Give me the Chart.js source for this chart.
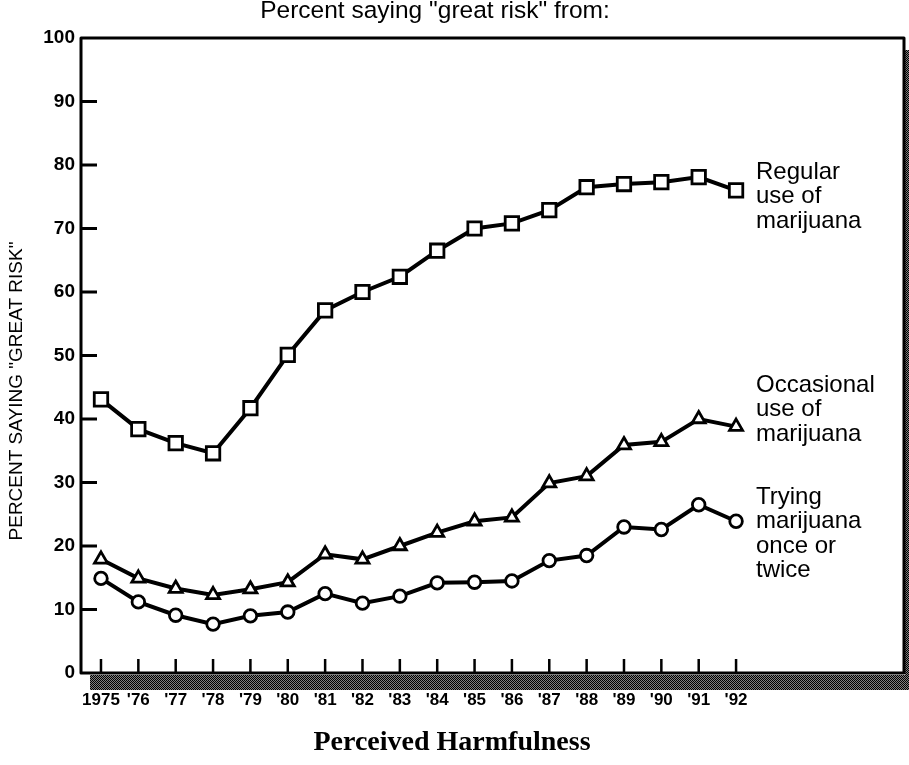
<!DOCTYPE html>
<html>
<head>
<meta charset="utf-8">
<script src="https://cdn.jsdelivr.net/npm/chart.js@4.4.1/dist/chart.umd.min.js"></script>
<style>
    html, body { margin: 0; padding: 0; background: #fff; }
    #wrap { width: 909px; height: 765px; position: relative; }
</style>
</head>
<body>
<div id="wrap"><canvas id="chart" width="909" height="765"></canvas></div>
<script>
// Survey years and the three "great risk" series (percent)
const years = [1975, 1976, 1977, 1978, 1979, 1980, 1981, 1982, 1983,
               1984, 1985, 1986, 1987, 1988, 1989, 1990, 1991, 1992];
const regularUse = [43.1, 38.4, 36.2, 34.6, 41.7, 50.1, 57.1, 60.0, 62.4,
                    66.5, 70.0, 70.8, 72.9, 76.5, 77.0, 77.3, 78.1, 76.0];
const occasionalUse = [17.9, 14.9, 13.3, 12.3, 13.2, 14.3, 18.7, 17.9, 20.0,
                       22.1, 23.9, 24.5, 29.9, 31.0, 35.9, 36.4, 40.0, 38.8];
const tryingOnce = [14.9, 11.2, 9.1, 7.7, 9.0, 9.6, 12.5, 11.0, 12.1,
                    14.2, 14.3, 14.5, 17.7, 18.5, 23.0, 22.6, 26.5, 23.9];
const yTicks = [0, 10, 20, 30, 40, 50, 60, 70, 80, 90, 100];
const seriesNotes = [
    ['Regular', 'use of', 'marijuana'],
    ['Occasional', 'use of', 'marijuana'],
    ['Trying', 'marijuana', 'once or', 'twice']
];

const SANS = '"Liberation Sans", Arial, Helvetica, sans-serif';
const SERIF = '"Liberation Serif", "Times New Roman", serif';

// grey dotted fill used for the drop shadow of the frame
function makeShade(ctx) {
    const p = document.createElement('canvas');
    p.width = 2; p.height = 2;
    const pc = p.getContext('2d');
    pc.fillStyle = '#808080';
    pc.fillRect(0, 0, 2, 2);
    pc.fillStyle = '#000';
    pc.fillRect(0, 0, 1, 1);
    pc.fillRect(1, 1, 1, 1);
    return ctx.createPattern(p, 'repeat');
}

const framePlugin = {
    id: 'frame',
    beforeDraw(chart) {
        const ctx = chart.ctx;
        ctx.save();
        ctx.fillStyle = '#fff';
        ctx.fillRect(0, 0, chart.width, chart.height);
        ctx.restore();
    },
    beforeDatasetsDraw(chart) {
        const { ctx, chartArea: a, scales } = chart;
        // the box runs a little past the chart area on the right
        const right = chart.width - 5;
        ctx.save();
        // shadow below and right of the frame
        ctx.fillStyle = makeShade(ctx);
        ctx.fillRect(a.left + 9, a.bottom + 2, chart.width - a.left - 9, 15);
        ctx.fillRect(right + 1, a.top + 12, chart.width - right - 1, a.bottom - a.top + 5);

        ctx.strokeStyle = '#000';
        ctx.lineWidth = 3;
        ctx.lineJoin = 'round';
        ctx.strokeRect(a.left, a.top, right - a.left, a.bottom - a.top);

        // inward tick marks
        ctx.lineWidth = 2.5;
        ctx.beginPath();
        years.forEach(yr => {
            const x = scales.x.getPixelForValue(yr);
            ctx.moveTo(x, a.bottom);
            ctx.lineTo(x, a.bottom - 14);
        });
        ctx.stroke();
        ctx.lineWidth = 3;
        ctx.beginPath();
        yTicks.slice(1, -1).forEach(v => {
            const y = scales.y.getPixelForValue(v);
            ctx.moveTo(a.left, y);
            ctx.lineTo(a.left + 16, y);
        });
        ctx.stroke();
        ctx.restore();
    },
    afterDraw(chart) {
        const ctx = chart.ctx;
        ctx.save();
        ctx.fillStyle = '#000';
        ctx.textBaseline = 'middle';

        ctx.font = '24.5px ' + SANS;
        ctx.textAlign = 'center';
        ctx.fillText('Percent saying "great risk" from:', 435, 11);

        ctx.font = 'bold 28px ' + SERIF;
        ctx.fillText('Perceived Harmfulness', 452, 743);

        ctx.save();
        ctx.translate(17, 391);
        ctx.rotate(-Math.PI / 2);
        ctx.font = '19px ' + SANS;
        ctx.fillText('PERCENT SAYING "GREAT RISK"', 0, 0);
        ctx.restore();

        ctx.font = '24px ' + SANS;
        ctx.textAlign = 'left';
        const starts = [172, 385, 497];
        seriesNotes.forEach((lines, i) => {
            lines.forEach((t, j) => ctx.fillText(t, 756, starts[i] + j * 24.5));
        });
        ctx.restore();
    }
};

function points(values) {
    return years.map((yr, i) => ({ x: yr, y: values[i] }));
}

function series(label, values, style, radius) {
    return {
        label: label,
        data: points(values),
        borderColor: '#000',
        borderWidth: 4,
        pointStyle: style,
        pointRadius: radius,
        pointBorderWidth: 2.8,
        pointBackgroundColor: '#fff',
        pointBorderColor: '#000',
        tension: 0
    };
}

new Chart(document.getElementById('chart'), {
    type: 'line',
    data: {
        datasets: [
            series('Regular use of marijuana', regularUse, 'rect', 9.5),
            series('Occasional use of marijuana', occasionalUse, 'triangle', 7.5),
            series('Trying marijuana once or twice', tryingOnce, 'circle', 6.3)
        ]
    },
    options: {
        responsive: false,
        devicePixelRatio: 1,
        animation: false,
        layout: { padding: { top: 38, right: 5, bottom: 0, left: 0 } },
        plugins: {
            legend: { display: false },
            tooltip: { enabled: false }
        },
        scales: {
            x: {
                type: 'linear',
                min: 1974.465,
                max: 1996.3,
                afterBuildTicks: s => { s.ticks = years.map(v => ({ value: v })); },
                afterFit: s => { s.height = 92; s.paddingLeft = 0; s.paddingRight = 0; },
                grid: { display: false, drawTicks: false },
                border: { display: false },
                ticks: {
                    autoSkip: false,
                    maxRotation: 0,
                    padding: 17,
                    color: '#000',
                    font: { family: SANS, size: 17, weight: 'bold' },
                    callback: v => v === 1975 ? '1975' : "'" + String(v).slice(2)
                }
            },
            y: {
                min: 0,
                max: 100,
                afterBuildTicks: s => { s.ticks = yTicks.map(v => ({ value: v })); },
                afterFit: s => { s.width = 81; },
                grid: { display: false, drawTicks: false },
                border: { display: false },
                ticks: {
                    padding: 6,
                    color: '#000',
                    font: { family: SANS, size: 19, weight: 'bold' }
                }
            }
        }
    },
    plugins: [framePlugin]
});
</script>
</body>
</html>
